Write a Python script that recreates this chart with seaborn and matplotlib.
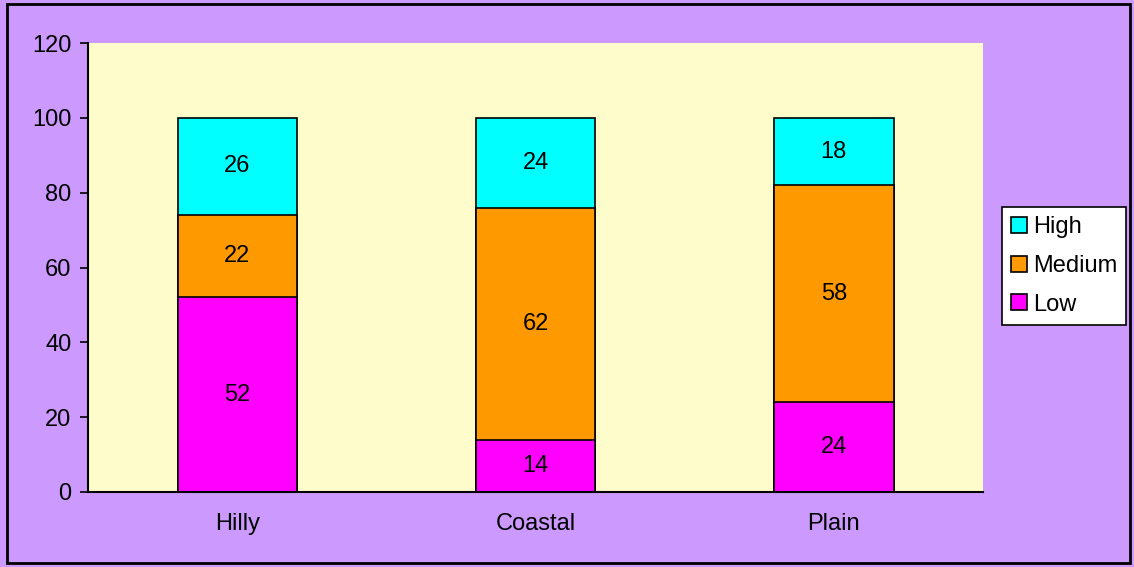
import matplotlib.pyplot as plt
import numpy as np
import pandas as pd
import seaborn as sns
from matplotlib.patches import Patch, Rectangle

regions = ["Hilly", "Coastal", "Plain"]
low = [52, 14, 24]
medium = [22, 62, 58]
high = [26, 24, 18]

series = ["Low", "Medium", "High"]
colors = {"Low": "#FF00FF", "Medium": "#FF9900", "High": "#00FFFF"}

df = pd.DataFrame({"Region": regions, "Low": low, "Medium": medium, "High": high})
df["cum_Low"] = df["Low"]
df["cum_Medium"] = df["cum_Low"] + df["Medium"]
df["cum_High"] = df["cum_Medium"] + df["High"]

sns.set_theme(style="white")
plt.rcParams["font.family"] = ["Liberation Sans", "DejaVu Sans"]
plt.rcParams["text.color"] = "black"
FS = 17

fig = plt.figure(figsize=(11.34, 5.67), dpi=100)
fig.patch.set_facecolor("#CC99FF")
ax = fig.add_axes([88 / 1134, 75 / 567, (983 - 88) / 1134, (492 - 43) / 567])
ax.set_facecolor("#FFFCCC")

# draw back to front so each segment covers the one above it
for name in ["High", "Medium", "Low"]:
    sns.barplot(data=df, x="Region", y=f"cum_{name}", color=colors[name],
                width=0.4, edgecolor="black", linewidth=1.2, ax=ax,
                saturation=1, zorder=2)

# segment labels
for i in range(len(regions)):
    base = 0
    for name in series:
        v = df.loc[i, name]
        ax.text(i, base + v / 2, f"{v}", ha="center", va="center", fontsize=FS,
                color="black", zorder=3)
        base += v

ax.set_xlim(-0.5, 2.5)
ax.set_ylim(0, 120)
ax.set_yticks(np.arange(0, 121, 20))
ax.set_xlabel("")
ax.set_ylabel("")
ax.set_xticks(np.arange(-0.5, 2.6, 1), minor=True)
ax.tick_params(axis="x", which="major", length=0, pad=15, labelsize=FS, colors="black")
ax.tick_params(axis="x", which="minor", length=6, width=1.2, direction="out", color="black")
ax.tick_params(axis="y", length=6, width=1.2, direction="out", color="black",
               labelcolor="black", labelsize=FS, pad=6)
ax.tick_params(left=True, bottom=True)
for s in ["top", "right"]:
    ax.spines[s].set_visible(False)
for s in ["left", "bottom"]:
    ax.spines[s].set_color("black")
    ax.spines[s].set_linewidth(1.5)

handles = [Patch(facecolor=colors[n], edgecolor="black", linewidth=1.2, label=n)
           for n in ["High", "Medium", "Low"]]
leg = ax.legend(handles=handles, loc="center left",
                bbox_to_anchor=(1002 / 1134, (567 - 266) / 567),
                bbox_transform=fig.transFigure, fontsize=FS, frameon=True, fancybox=False,
                handlelength=0.65, handleheight=0.65, handletextpad=0.25,
                labelspacing=0.7, borderpad=0.4, borderaxespad=0)
for t in leg.get_texts():
    t.set_color("black")
leg.get_frame().set_edgecolor("black")
leg.get_frame().set_linewidth(1.2)
leg.get_frame().set_facecolor("white")
leg.get_frame().set_alpha(1)

fig.patches.append(Rectangle((7 / 1134, 4 / 567), 1123 / 1134, 559 / 567,
                             transform=fig.transFigure, fill=False,
                             edgecolor="black", linewidth=2))

fig.savefig("out.png", dpi=100, facecolor=fig.get_facecolor())
